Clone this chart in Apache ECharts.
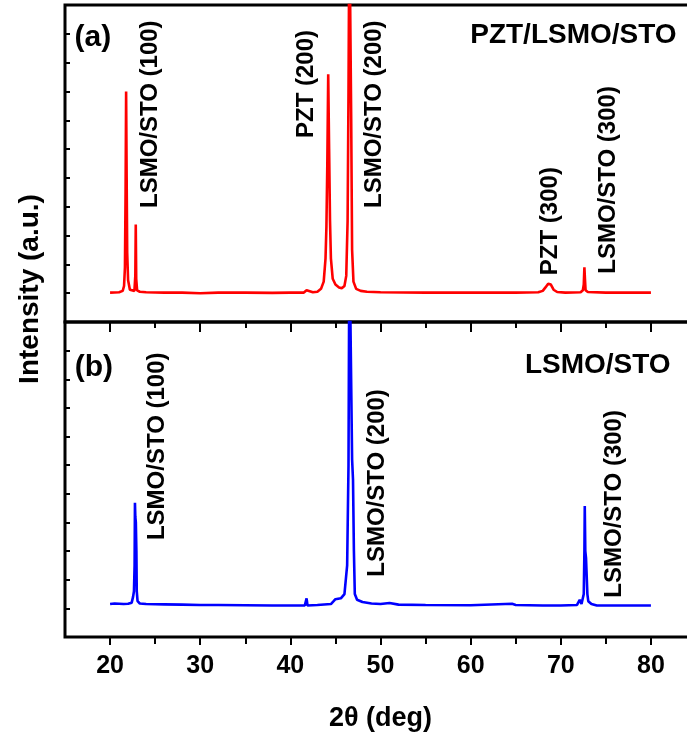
<!DOCTYPE html>
<html>
<head>
<meta charset="utf-8">
<script src="https://cdn.jsdelivr.net/npm/echarts@6/dist/echarts.min.js"></script>
<style>
html,body{margin:0;padding:0;background:#fff;}
#chart{width:687px;height:738px;}
</style>
</head>
<body>
<div id="chart"></div>
<script>
// ---- Data (2theta in deg, intensity in arbitrary units) ----
const xTicksMajor = [20, 30, 40, 50, 60, 70, 80];
const xTicksMinor = [25, 35, 45, 55, 65, 75];

// (a) PZT/LSMO/STO
const redX = [20.0, 21.0, 21.4, 21.55, 21.65, 21.72, 21.78, 21.84, 21.9, 22.0, 22.2, 22.4, 22.7, 22.8, 22.85, 22.9, 23.0, 23.3, 24, 26, 28, 30, 32, 35, 38, 40, 41.5, 41.8, 42.5, 43.0, 43.4, 43.7, 43.9, 44.0, 44.1, 44.2, 44.3, 44.4, 44.5, 44.7, 45.0, 45.4, 45.7, 46.0, 46.2, 46.35, 46.45, 46.55, 46.65, 46.75, 46.85, 47.0, 47.3, 47.8, 48.5, 50, 55, 60, 65, 67.5, 68.0, 68.3, 68.6, 68.75, 68.9, 69.2, 69.6, 70.5, 72.2, 72.45, 72.55, 72.62, 72.68, 72.75, 73.0, 75, 78, 80];
const redY = [1.02, 1.03, 1.08, 1.25, 1.9, 4.5, 8.0, 5.0, 2.4, 1.45, 1.12, 1.06, 1.08, 1.6, 3.38, 1.5, 1.1, 1.05, 1.03, 1.02, 1.02, 1.0, 1.02, 1.02, 1.01, 1.02, 1.02, 1.1, 1.03, 1.05, 1.15, 1.4, 2.2, 3.3, 5.5, 8.6, 6.0, 3.5, 2.2, 1.5, 1.3, 1.2, 1.17, 1.25, 1.6, 3.5, 8.0, 14.0, 14.0, 7.0, 2.5, 1.4, 1.15, 1.08, 1.05, 1.03, 1.02, 1.02, 1.02, 1.03, 1.08, 1.2, 1.33, 1.35, 1.3, 1.12, 1.04, 1.02, 1.03, 1.1, 1.3, 1.9, 1.5, 1.1, 1.04, 1.02, 1.02, 1.02];

// (b) LSMO/STO
const blueX = [20.0, 20.5, 21.0, 21.5, 22.0, 22.4, 22.55, 22.65, 22.72, 22.76, 22.8, 22.86, 22.92, 22.96, 23.05, 23.3, 24, 26, 28, 30, 32, 35, 38, 40, 41.6, 41.8, 41.9, 43, 44.5, 44.8, 45.0, 45.6, 46.0, 46.3, 46.45, 46.55, 46.75, 46.85, 46.95, 47.05, 47.15, 47.4, 48, 49, 50, 51, 52, 55, 60, 64.6, 65, 68, 70, 71.8, 72.1, 72.3, 72.45, 72.55, 72.62, 72.66, 72.72, 72.8, 72.9, 72.95, 73.05, 73.2, 73.4, 74, 76, 78, 80];
const blueY = [1.15, 1.17, 1.16, 1.15, 1.16, 1.2, 1.4, 1.6, 2.5, 4.69, 4.2, 4.0, 3.0, 1.6, 1.25, 1.17, 1.15, 1.14, 1.13, 1.12, 1.12, 1.11, 1.1, 1.1, 1.1, 1.35, 1.1, 1.12, 1.15, 1.25, 1.32, 1.35, 1.5, 2.5, 6.0, 14.0, 14.0, 6.2, 5.5, 3.0, 1.5, 1.3, 1.22, 1.17, 1.15, 1.19, 1.13, 1.12, 1.11, 1.16, 1.12, 1.1, 1.1, 1.12, 1.3, 1.15, 1.2, 1.5, 3.0, 4.57, 3.0, 2.75, 2.7, 1.5, 1.25, 1.3, 1.15, 1.1, 1.1, 1.1, 1.1];

// ---- Annotations (text and anchor in data units) ----
const topNotes = ['(a)', 'PZT/LSMO/STO', 'LSMO/STO (100)', 'PZT (200)', 'LSMO/STO (200)', 'PZT (300)', 'LSMO/STO (300)'];
const topNoteX = [18.1, 71.4, 24.5, 41.8, 49.3, 68.9, 75.3];
const topNoteY = [9.85, 9.95, 7.21, 8.26, 7.21, 3.5, 4.93];
const topNoteRot = [0, 0, 90, 90, 90, 90, 90];

const botNotes = ['(b)', 'LSMO/STO', 'LSMO/STO (100)', 'LSMO/STO (200)', 'LSMO/STO (300)'];
const botNoteX = [18.2, 74.1, 25.3, 49.7, 75.9];
const botNoteY = [9.41, 9.48, 6.66, 5.38, 4.65];
const botNoteRot = [0, 0, 90, 90, 90];

const FONT = '"Liberation Sans", Arial, Helvetica, sans-serif';

function pairs(xs, ys) { return xs.map((x, i) => [x, ys[i]]); }
function notes(texts, xs, ys, rots) {
  return texts.map((t, i) => ({
    value: [xs[i], ys[i]],
    label: {
      formatter: t,
      rotate: rots[i],
      color: '#000',
      fontSize: rots[i] === 0 ? (t.length < 4 ? 30 : 28) : 24
    }
  }));
}

const chart = echarts.init(document.getElementById('chart'), null, {renderer: 'canvas'});

const yAxisCommon = {
  type: 'value', min: 0, max: 11, interval: 1,
  axisLine: {show: false},
  axisLabel: {show: false},
  splitLine: {show: false},
  axisTick: {show: true, inside: true, length: 5, lineStyle: {color: '#000', width: 2}}
};

function xAxisBase(grid, position, show) {
  return {
    type: 'value', gridIndex: grid, min: 15, max: 85, position: position, show: show,
    axisLine: {show: false}, splitLine: {show: false}, axisLabel: {show: false},
    axisTick: {show: false}
  };
}

const xBottomMajor = xAxisBase(1, 'bottom', true);
xBottomMajor.axisTick = {show: true, inside: false, length: 8, customValues: xTicksMajor, lineStyle: {color: '#000', width: 2}};
xBottomMajor.axisLabel = {show: true, customValues: xTicksMajor, fontFamily: FONT, fontWeight: 'bold', fontSize: 25, color: '#000', margin: 17};
xBottomMajor.name = '2\u03b8 (deg)';
xBottomMajor.nameLocation = 'middle';
xBottomMajor.nameGap = 68;
xBottomMajor.nameTextStyle = {fontFamily: FONT, fontWeight: 'bold', fontSize: 27, color: '#000'};

const xBottomMinor = xAxisBase(1, 'bottom', true);
xBottomMinor.axisTick = {show: true, inside: false, length: 7, customValues: xTicksMinor, lineStyle: {color: '#000', width: 2}};

const xTopMajor = xAxisBase(1, 'top', true);
xTopMajor.axisTick = {show: true, inside: true, length: 10, customValues: xTicksMajor, lineStyle: {color: '#000', width: 2}};

const xTopMinor = xAxisBase(1, 'top', true);
xTopMinor.axisTick = {show: true, inside: true, length: 6, customValues: xTicksMinor, lineStyle: {color: '#000', width: 2}};

const labelStyle = {
  show: true, position: 'inside', align: 'center', verticalAlign: 'middle',
  fontFamily: FONT, fontWeight: 'bold', color: '#000', opacity: 1,
  textBorderWidth: 0, textShadowBlur: 0
};

const gridCommon = {
  left: 65, width: 631, show: true, borderColor: '#000', borderWidth: 3,
  backgroundColor: 'transparent', containLabel: false, outerBoundsMode: 'none'
};

const option = {
  animation: false,
  backgroundColor: '#fff',
  grid: [
    Object.assign({top: 5, height: 317}, gridCommon),
    Object.assign({top: 322, height: 315}, gridCommon)
  ],
  xAxis: [
    xAxisBase(0, 'bottom', false),
    xBottomMajor,
    xBottomMinor,
    xTopMajor,
    xTopMinor
  ],
  yAxis: [
    Object.assign({gridIndex: 0}, yAxisCommon),
    Object.assign({gridIndex: 1}, yAxisCommon)
  ],
  graphic: [
    {
      type: 'text', x: 30, y: 289, rotation: Math.PI / 2,
      style: {
        text: 'Intensity (a.u.)', fill: '#000',
        font: 'bold 28px ' + FONT,
        align: 'center', verticalAlign: 'middle',
        textAlign: 'center', textVerticalAlign: 'middle'
      }
    }
  ],
  series: [
    {
      type: 'line', xAxisIndex: 0, yAxisIndex: 0, showSymbol: false, symbol: 'none',
      clip: true, silent: true,
      lineStyle: {color: '#ff0000', width: 2.6},
      data: pairs(redX, redY)
    },
    {
      type: 'line', xAxisIndex: 1, yAxisIndex: 1, showSymbol: false, symbol: 'none',
      clip: true, silent: true,
      lineStyle: {color: '#0000ff', width: 2.6},
      data: pairs(blueX, blueY)
    },
    {
      type: 'scatter', xAxisIndex: 0, yAxisIndex: 0, symbolSize: 0, silent: true,
      itemStyle: {opacity: 1},
      label: labelStyle,
      data: notes(topNotes, topNoteX, topNoteY, topNoteRot)
    },
    {
      type: 'scatter', xAxisIndex: 1, yAxisIndex: 1, symbolSize: 0, silent: true,
      itemStyle: {opacity: 1},
      label: labelStyle,
      data: notes(botNotes, botNoteX, botNoteY, botNoteRot)
    }
  ]
};

chart.setOption(option);
</script>
</body>
</html>
